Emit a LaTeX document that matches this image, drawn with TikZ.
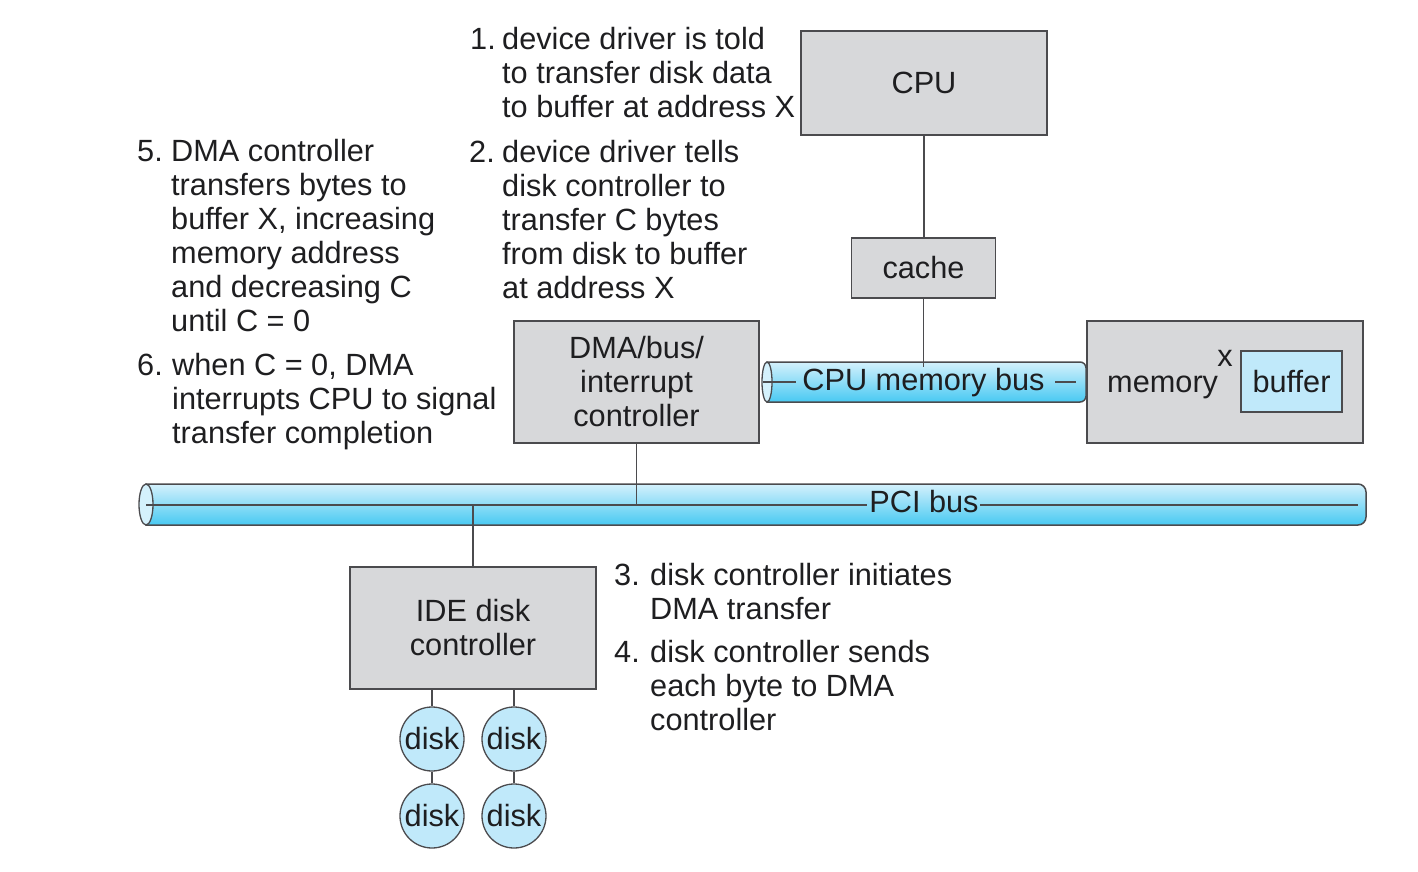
\documentclass[tikz,border=0pt]{standalone}
\usepackage{fontspec}
\setmainfont{Liberation Sans}
\definecolor{boxgray}{RGB}{215,216,218}
\definecolor{boxline}{RGB}{75,75,78}
\definecolor{txt}{RGB}{30,30,32}
\definecolor{lightblue}{RGB}{192,233,250}
\definecolor{tubetop}{RGB}{212,241,252}
\definecolor{tubebot}{RGB}{72,201,242}
\newcommand{\txtlines}[1]{\begin{tabular}[t]{@{}l@{}}#1\end{tabular}}
\begin{document}
\begin{tikzpicture}[x=1pt,y=-1pt,
  every node/.style={font=\fontsize{30.7}{34}\selectfont, text=txt, inner sep=0pt},
  graybox/.style={draw=boxline, fill=boxgray, line width=1.5pt, align=center},
  bluebox/.style={draw=boxline, fill=lightblue, line width=1.5pt},
  diskc/.style={circle, draw=boxline, fill=lightblue, line width=1.3pt, minimum size=64pt},
  wire/.style={draw=boxline, line width=1.3pt},
  tube/.style={draw=boxline, line width=1.5pt, top color=tubetop, bottom color=tubebot},
  numtxt/.style={anchor=base west},
]
\useasboundingbox (0,0) rectangle (1418,872);

% ---- tubes ----
% CPU memory bus
\path[tube] (767,362) [rounded corners=6] -- (1086,362) -- (1086,402) [sharp corners] -- (767,402) -- cycle;
\path[draw=boxline, line width=1.3pt, fill=tubetop] (767,382) ellipse [x radius=5, y radius=20];
% PCI bus
\path[tube] (146,484) [rounded corners=8] -- (1366,484) -- (1366,525) [sharp corners] -- (146,525) -- cycle;
\path[draw=boxline, line width=1.3pt, fill=tubetop] (146,504.5) ellipse [x radius=7, y radius=20.5];

\coordinate (mbL1) at (763,382);
\coordinate (mbL2) at (796,382);
\coordinate (mbR1) at (1055,382);
\coordinate (mbR2) at (1076,382);
\coordinate (pciL1) at (146,505);
\coordinate (pciL2) at (867,505);
\coordinate (pciR1) at (980,505);
\coordinate (pciR2) at (1358,505);
\draw[wire] (mbL1) -- (mbL2);
\draw[wire] (mbR1) -- (mbR2);
\draw[wire] (pciL1) -- (pciL2);
\draw[wire] (pciR1) -- (pciR2);
\node (membus) at (923.5,382.5) {CPU memory bus};
\node (pcibus) at (924,502) {PCI bus};

% ---- boxes ----
\node[graybox, minimum width=246pt, minimum height=104pt] (cpu) at (924,83) {CPU};
\node[graybox, minimum width=144pt, minimum height=60pt] (cache) at (923.5,268) {cache};
\node[graybox, minimum width=245pt, minimum height=122pt] (dma) at (636.5,382) {DMA/bus/\\interrupt\\controller};
\node[graybox, minimum width=276pt, minimum height=122pt] (memory) at (1225,382) {};
\node[anchor=base west] (memtxt) at (1107,392) {memory};
\node[anchor=base] (xlabel) at (1225,366) {x};
\node[bluebox, minimum width=101pt, minimum height=61pt] (buffer) at (1291.5,381.5) {buffer};
\node[graybox, minimum width=246pt, minimum height=122pt] (ide) at (473,628) {IDE disk\\controller};

% disks
\node[diskc] (d1) at (432,739) {disk};
\node[diskc] (d2) at (514,739) {disk};
\node[diskc] (d3) at (432,816) {disk};
\node[diskc] (d4) at (514,816) {disk};

% ---- connectors ----
\coordinate (mbtop) at (923.5,367);
\coordinate (pcidma) at (636.5,505);
\coordinate (pciide) at (473,505);
\draw[wire] (cache.north -| cpu.south) -- (cpu.south);
\draw[wire] (cache.south) -- (mbtop);
\draw[wire] (dma.south) -- (pcidma);
\draw[wire] (pciide) -- (ide.north);
\draw[wire] (ide.south -| d1) -- (d1);
\draw[wire] (ide.south -| d2) -- (d2);
\draw[wire] (d1) -- (d3);
\draw[wire] (d2) -- (d4);

% ---- step texts ----
\node[numtxt] (n1) at (470,50) {1.};
\node[numtxt] (s1) at (502,50) {\txtlines{device driver is told\\to transfer disk data\\to buffer at address X}};
\node[numtxt] (n2) at (469,162) {2.};
\node[numtxt] (s2) at (502,162) {\txtlines{device driver tells\\disk controller to\\transfer C bytes\\from disk to buffer\\at address X}};
\node[numtxt] (n5) at (137,161) {5.};
\node[numtxt] (s5) at (171,161) {\txtlines{DMA controller\\transfers bytes to\\buffer X, increasing\\memory address\\and decreasing C\\until C = 0}};
\node[numtxt] (n6) at (137,375) {6.};
\node[numtxt] (s6) at (172,375) {\txtlines{when C = 0, DMA\\interrupts CPU to signal\\transfer completion}};
\node[numtxt] (n3) at (614,585) {3.};
\node[numtxt] (s3) at (650,585) {\txtlines{disk controller initiates\\DMA transfer}};
\node[numtxt] (n4) at (614,662) {4.};
\node[numtxt] (s4) at (650,662) {\txtlines{disk controller sends\\each byte to DMA\\controller}};
\end{tikzpicture}
\end{document}
